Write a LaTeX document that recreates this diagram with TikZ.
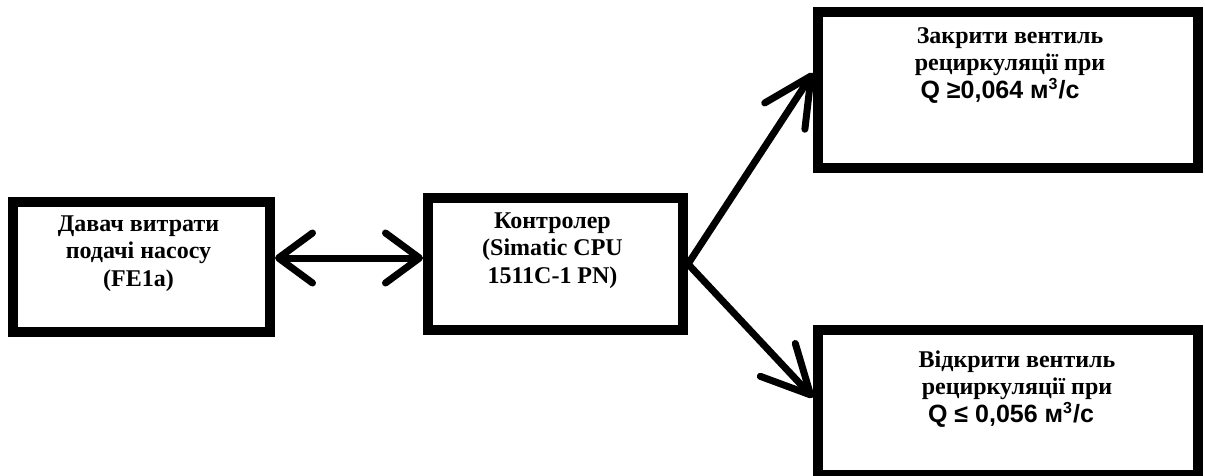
\documentclass[tikz,border=0pt]{standalone}
\usepackage{fontspec}
\setmainfont{Liberation Serif}
\newfontfamily\qfont{Liberation Sans}
\usetikzlibrary{positioning,arrows.meta}

\tikzset{
    openhead/.tip={Straight Barb[length=17pt, width=25pt, round]},
    longhead/.tip={Straight Barb[length=24pt, width=24pt, round]}
}

\begin{document}
\begin{tikzpicture}[
    x=0.5pt, y=-0.5pt,
    box/.style={rectangle, draw, line width=5pt, inner sep=0pt},
    txt/.style={inner sep=0pt, align=center, font=\bfseries\fontsize{12}{13.75}\selectfont},
    link/.style={line width=3.5pt, line cap=round}
]
\useasboundingbox (0,0) rectangle (1205,476);

\node[box, minimum width=128.5pt, minimum height=65pt] (sensor) at (141.5,267) {};
\node[box, minimum width=127.5pt, minimum height=66pt] (ctrl) at (555.5,264) {};
\node[box, minimum width=190pt, minimum height=78pt] (close) at (1008,90) {};
\node[box, minimum width=190pt, minimum height=72.5pt] (open) at (1008,402.5) {};

\node[txt, below=9pt of sensor.north, xshift=-1.5pt] {Давач витрати\\подачі насосу\\(FE1a)};
\node[txt, below=9.5pt of ctrl.north, xshift=-1.5pt] {Контролер\\(Simatic CPU\\1511C-1 PN)};
\node[txt, below=10pt of close.north, xshift=1pt] {Закрити вентиль\\рециркуляції при\\{\qfont\fontsize{12.5}{13.75}\selectfont Q ≥0,064 м\textsuperscript{\footnotesize 3}/с\hspace*{10pt}}};
\node[txt, below=12.5pt of open.north, xshift=4.5pt] {Відкрити вентиль\\рециркуляції при\\{\qfont\fontsize{12.5}{13.75}\selectfont Q ≤ 0,056 м\textsuperscript{\footnotesize 3}/с\hspace*{6pt}}};

\draw[link, openhead-openhead] ([yshift=4.5pt]sensor.east) -- ([yshift=3pt]ctrl.west);
\draw[link, -longhead] (ctrl.east) -- ([yshift=8.5pt]close.west);
\draw[link, -longhead] (ctrl.east) -- ([yshift=2.5pt]open.west);
\end{tikzpicture}
\end{document}
